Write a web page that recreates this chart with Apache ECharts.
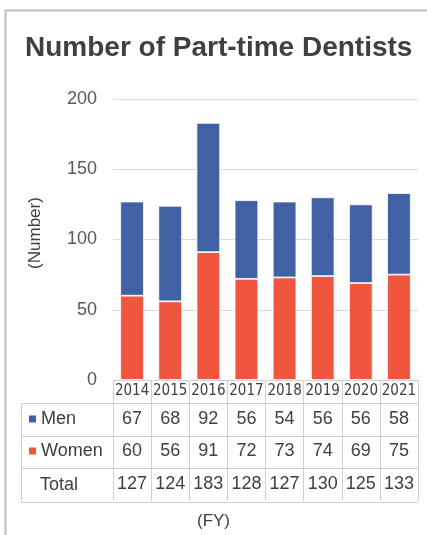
<!DOCTYPE html>
<html>
<head>
<meta charset="utf-8">
<script src="https://cdn.jsdelivr.net/npm/echarts@6/dist/echarts.min.js"></script>
<style>
  html, body { margin: 0; padding: 0; background: #fff; }
  #main { width: 427px; height: 535px; }
</style>
</head>
<body>
<div id="main"></div>
<script>
// data
var years = ['2014', '2015', '2016', '2017', '2018', '2019', '2020', '2021'];
var men = [67, 68, 92, 56, 54, 56, 56, 58];
var women = [60, 56, 91, 72, 73, 74, 69, 75];
var totals = [127, 124, 183, 128, 127, 130, 125, 133];
var yTicks = [0, 50, 100, 150, 200];

var BLUE = '#4061a4';
var RED = '#f0563d';
var LINE = '#d0d0d0';
var TXT = '#404040';

var chart = echarts.init(document.getElementById('main'));

// table rows under the axis (y positions of horizontal rules)
var rows = [403, 436, 468, 502];
var graphics = [];
rows.forEach(function (y) {
  graphics.push({
    type: 'line',
    shape: { x1: 21, y1: y + 0.5, x2: 418, y2: y + 0.5 },
    style: { stroke: LINE, lineWidth: 1 }
  });
});
graphics.push({
  type: 'line',
  shape: { x1: 21.5, y1: 403, x2: 21.5, y2: 502 },
  style: { stroke: LINE, lineWidth: 1 }
});
// outer frame
graphics.push({
  type: 'polyline',
  shape: { points: [[5.5, 535], [5.5, 10.5], [427, 10.5]] },
  style: { stroke: '#c0c0c0', lineWidth: 2, fill: null }
});
graphics.push({
  type: 'text', left: 40, top: 476,
  style: { text: 'Total', font: '18px "Liberation Sans", Arial, sans-serif', fill: TXT }
});
graphics.push({
  type: 'text', left: 'center', top: 513,
  style: { text: '(FY)', font: '17px "Liberation Sans", Arial, sans-serif', fill: TXT }
});
// axis title
graphics.push({
  type: 'text', x: 35, y: 233, rotation: Math.PI / 2,
  style: {
    text: '(Number)', font: '17px "Liberation Sans", Arial, sans-serif', fill: TXT,
    align: 'center', verticalAlign: 'middle'
  }
});

chart.setOption({
  animation: false,
  textStyle: { fontFamily: '"Liberation Sans", Arial, sans-serif' },
  title: {
    text: 'Number of Part-time Dentists',
    left: 25, top: 34,
    padding: 0,
    textStyle: { fontSize: 28, fontWeight: 'bold', color: TXT }
  },
  legend: [
    {
      data: ['Men'], left: 27, top: 410, padding: 0,
      icon: 'rect', itemWidth: 9, itemHeight: 9,
      textStyle: { fontSize: 18, color: TXT, padding: [0, 0, 0, -1] }
    },
    {
      data: ['Women'], left: 27, top: 442, padding: 0,
      icon: 'rect', itemWidth: 9, itemHeight: 9,
      textStyle: { fontSize: 18, color: TXT, padding: [0, 0, 0, -1] }
    }
  ],
  grid: { left: 113, right: 9, top: 99, bottom: 155 },
  xAxis: {
    type: 'category',
    data: years,
    axisLine: { lineStyle: { color: LINE } },
    axisTick: { show: true, length: 121, lineStyle: { color: LINE } },
    axisLabel: {
      margin: 0,
      interval: 0,
      formatter: function (v, i) {
        return '{y|' + v + '}\n{v|' + men[i] + '}\n{v|' + women[i] + '}\n{t|' + totals[i] + '}';
      },
      rich: {
        y: { fontSize: 15, lineHeight: 23, color: TXT, fontFamily: '"DejaVu Sans Condensed", "Liberation Sans Narrow", sans-serif' },
        v: { fontSize: 18, lineHeight: 32, color: TXT },
        t: { fontSize: 18, lineHeight: 34, color: TXT }
      }
    }
  },
  yAxis: {
    type: 'value',
    min: yTicks[0],
    max: yTicks[yTicks.length - 1],
    interval: 50,
    axisLine: { show: false },
    axisTick: { show: false },
    axisLabel: { fontSize: 18, color: '#595959', margin: 16 },
    splitLine: { lineStyle: { color: '#d9d9d9', width: 1 } }
  },
  graphic: graphics,
  series: [
    {
      name: 'Women', type: 'bar', stack: 'all', data: women,
      barWidth: '62%',
      itemStyle: { color: RED, borderColor: '#fff', borderWidth: 0.8 }
    },
    {
      name: 'Men', type: 'bar', stack: 'all', data: men,
      barWidth: '62%',
      itemStyle: { color: BLUE, borderColor: '#fff', borderWidth: 0.8 }
    }
  ]
});
</script>
</body>
</html>
